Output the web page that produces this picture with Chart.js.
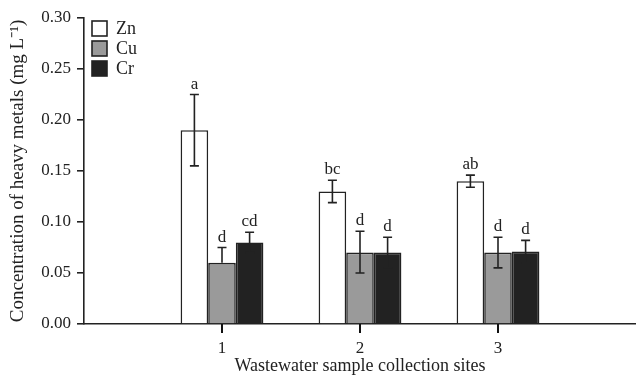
<!DOCTYPE html>
<html>
<head>
<meta charset="utf-8">
<script src="https://cdn.jsdelivr.net/npm/chart.js@4.4.0/dist/chart.umd.min.js"></script>
<style>
  html, body { margin: 0; padding: 0; background: #fff; }
  #wrap { width: 636px; height: 384px; }
</style>
</head>
<body>
<div id="wrap"><canvas id="metalsChart"></canvas></div>
<script>
// collection sites
const sites = ['1', '2', '3'];

// mean concentrations (mg/L) per metal
const znValues = [0.19, 0.13, 0.14];
const cuValues = [0.06, 0.07, 0.07];
const crValues = [0.08, 0.07, 0.071];

// error bar half-lengths (up / down)
const znErrUp = [0.035, 0.011, 0.006];
const znErrDown = [0.035, 0.011, 0.006];
const cuErrUp = [0.015, 0.021, 0.015];
const cuErrDown = [0, 0.02, 0.015];
const crErrUp = [0.01, 0.015, 0.011];
const crErrDown = [0.01, 0.015, 0.011];

// significance letters
const znLetters = ['a', 'bc', 'ab'];
const cuLetters = ['d', 'd', 'd'];
const crLetters = ['cd', 'd', 'd'];

const yTicks = [0, 0.05, 0.10, 0.15, 0.20, 0.25, 0.30];

const ink = '#222';
const serif = '"Liberation Serif", "Times New Roman", serif';

// empty slot before and after the sites so the axis runs from 0 to 4
const labels = [''].concat(sites, ['']);
function pad(arr) { return [null].concat(arr, [null]); }

const extras = [
    { up: znErrUp, down: znErrDown, letters: znLetters },
    { up: cuErrUp, down: cuErrDown, letters: cuLetters },
    { up: crErrUp, down: crErrDown, letters: crLetters }
];

const errorBarPlugin = {
    id: 'errorBars',
    afterDatasetsDraw(chart) {
        const ctx = chart.ctx;
        const y = chart.scales.y;
        ctx.save();
        ctx.strokeStyle = ink;
        ctx.lineWidth = 1.6;
        ctx.fillStyle = ink;
        ctx.font = '17px ' + serif;
        ctx.textAlign = 'center';
        ctx.textBaseline = 'alphabetic';
        chart.data.datasets.forEach((ds, d) => {
            const meta = chart.getDatasetMeta(d);
            const ex = extras[d];
            meta.data.forEach((bar, i) => {
                const v = ds.data[i];
                if (v === null) return;
                const k = i - 1;
                const top = y.getPixelForValue(v + ex.up[k]);
                const bot = y.getPixelForValue(v - ex.down[k]);
                const cap = 4.5;
                ctx.beginPath();
                ctx.moveTo(bar.x, top);
                ctx.lineTo(bar.x, bot);
                ctx.moveTo(bar.x - cap, top);
                ctx.lineTo(bar.x + cap, top);
                if (ex.down[k] > 0) {
                    ctx.moveTo(bar.x - cap, bot);
                    ctx.lineTo(bar.x + cap, bot);
                }
                ctx.stroke();
                ctx.fillText(ex.letters[k], bar.x, top - 6);
            });
        });
        ctx.restore();
    }
};

// legend in the top-left corner of the plot, plus the x tick marks under each site
const decorPlugin = {
    id: 'decor',
    afterDraw(chart) {
        const ctx = chart.ctx;
        const area = chart.chartArea;
        const axisY = chart.scales.y.getPixelForValue(0);
        const mid = chart.getDatasetMeta(1);
        ctx.save();
        ctx.fillStyle = '#111';
        sites.forEach((s, i) => {
            const bar = mid.data[i + 1];
            ctx.fillRect(Math.round(bar.x) - 1, axisY, 2, 9);
        });

        ctx.strokeStyle = ink;
        ctx.lineWidth = 1.6;
        ctx.font = '18px ' + serif;
        ctx.textBaseline = 'middle';
        ctx.textAlign = 'left';
        chart.data.datasets.forEach((ds, d) => {
            const bx = area.left + 8;
            const by = area.top + 3 + d * 20;
            ctx.fillStyle = ds.backgroundColor;
            ctx.fillRect(bx, by, 15, 15);
            ctx.strokeRect(bx, by, 15, 15);
            ctx.fillStyle = ink;
            ctx.fillText(ds.label, bx + 24, by + 8);
        });
        ctx.restore();
    }
};

const ctx = document.getElementById('metalsChart').getContext('2d');
new Chart(ctx, {
    type: 'bar',
    data: {
        labels: labels,
        datasets: [
            {
                label: 'Zn',
                data: pad(znValues),
                backgroundColor: '#ffffff',
                borderColor: ink,
                borderWidth: 1.6
            },
            {
                label: 'Cu',
                data: pad(cuValues),
                backgroundColor: '#9a9a9a',
                borderColor: ink,
                borderWidth: 1.6
            },
            {
                label: 'Cr',
                data: pad(crValues),
                backgroundColor: '#222222',
                borderColor: ink,
                borderWidth: 1.6
            }
        ]
    },
    options: {
        responsive: true,
        maintainAspectRatio: false,
        animation: false,
        devicePixelRatio: 1,
        layout: { padding: { top: 18, right: 0, bottom: 0, left: 0 } },
        datasets: {
            bar: { categoryPercentage: 0.6, barPercentage: 1.0 }
        },
        plugins: {
            tooltip: { enabled: false },
            legend: { display: false }
        },
        scales: {
            x: {
                offset: false,
                afterFit: s => { s.paddingRight = 0; s.paddingLeft = 0; s.height = 60; },
                grid: { display: false },
                border: { display: true, color: ink, width: 1.6 },
                ticks: {
                    color: ink,
                    font: { family: serif, size: 17 },
                    maxRotation: 0,
                    autoSkip: false,
                    padding: 6
                },
                title: {
                    display: true,
                    text: 'Wastewater sample collection sites',
                    color: ink,
                    font: { family: serif, size: 18 },
                    padding: { top: 0, bottom: 7 }
                }
            },
            y: {
                min: 0,
                max: 0.30,
                afterBuildTicks: axis => { axis.ticks = yTicks.map(v => ({ value: v })); },
                afterFit: s => { s.width = 84; s.paddingTop = 0; s.paddingBottom = 0; },
                grid: {
                    display: true,
                    drawOnChartArea: false,
                    tickLength: 7,
                    lineWidth: 1.6,
                    color: ink
                },
                border: { display: true, color: ink, width: 1.6 },
                ticks: {
                    color: ink,
                    font: { family: serif, size: 17 },
                    padding: 6,
                    callback: v => Number(v).toFixed(2)
                },
                title: {
                    display: true,
                    text: 'Concentration of heavy metals (mg L⁻¹)',
                    color: ink,
                    font: { family: serif, size: 19 },
                    padding: { top: 7, bottom: 0 }
                }
            }
        }
    },
    plugins: [errorBarPlugin, decorPlugin]
});
</script>
</body>
</html>
